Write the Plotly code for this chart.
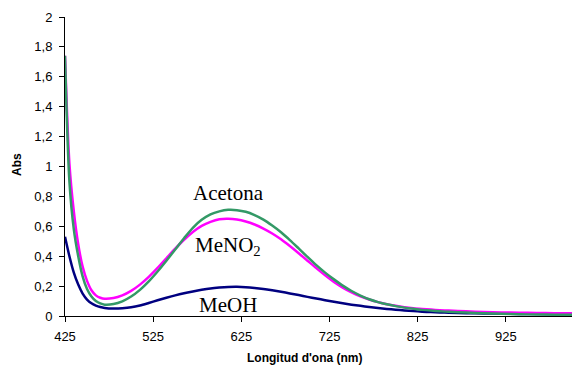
import plotly.graph_objects as go

# Wavelength grid (nm)
wavelength = [425, 430, 435, 440, 445, 450, 455, 460, 465, 470,
              480, 490, 500, 510, 520, 530, 540, 550, 560, 570,
              580, 590, 600, 610, 620, 630, 640, 650, 660, 670,
              680, 690, 700, 710, 720, 730, 740, 750, 760, 770,
              780, 790, 800, 810, 820, 830, 840, 850, 860,
              880, 900, 920, 940, 960, 980, 1000]

# Absorbance in each solvent
abs_acetona = [1.74, 0.90, 0.58, 0.40, 0.265, 0.18, 0.13, 0.10, 0.084, 0.076,
               0.08, 0.098, 0.13, 0.175, 0.232, 0.298, 0.37, 0.445, 0.52, 0.59,
               0.643, 0.68, 0.70, 0.71, 0.708, 0.697, 0.675, 0.645, 0.605, 0.56,
               0.508, 0.452, 0.395, 0.34, 0.29, 0.245, 0.203, 0.167, 0.137, 0.112,
               0.093, 0.078, 0.066, 0.056, 0.048, 0.041, 0.036, 0.032, 0.028,
               0.023, 0.018, 0.015, 0.012, 0.010, 0.009, 0.008]
abs_meno2 = [1.74, 1.02, 0.70, 0.48, 0.33, 0.235, 0.172, 0.138, 0.122, 0.115,
             0.12, 0.138, 0.168, 0.21, 0.262, 0.322, 0.386, 0.45, 0.51, 0.562,
             0.603, 0.63, 0.647, 0.65, 0.645, 0.632, 0.612, 0.585, 0.552, 0.513,
             0.468, 0.42, 0.37, 0.32, 0.272, 0.228, 0.19, 0.158, 0.132, 0.11,
             0.093, 0.079, 0.068, 0.059, 0.052, 0.047, 0.043, 0.039, 0.036,
             0.031, 0.027, 0.024, 0.022, 0.020, 0.019, 0.018]
abs_meoh = [0.53, 0.40, 0.29, 0.21, 0.15, 0.11, 0.085, 0.07, 0.06, 0.054,
            0.05, 0.052, 0.058, 0.07, 0.087, 0.105, 0.122, 0.138, 0.152, 0.164,
            0.175, 0.184, 0.19, 0.194, 0.195, 0.193, 0.188, 0.181, 0.172, 0.162,
            0.151, 0.14, 0.128, 0.117, 0.106, 0.095, 0.085, 0.076, 0.068, 0.06,
            0.053, 0.047, 0.042, 0.037, 0.033, 0.029, 0.026, 0.024, 0.022,
            0.019, 0.017, 0.015, 0.014, 0.013, 0.012, 0.012]

x_ticks = [425, 525, 625, 725, 825, 925]
y_ticks = [0, 0.2, 0.4, 0.6, 0.8, 1.0, 1.2, 1.4, 1.6, 1.8, 2.0]
y_ticktext = ["0", "0,2", "0,4", "0,6", "0,8", "1", "1,2", "1,4", "1,6", "1,8", "2"]

# Label for each curve: (text, x in nm, y in Abs)
labels = [("Acetona", 610, 0.82), ("MeNO<sub>2</sub>", 610, 0.47), ("MeOH", 610, 0.075)]

fig = go.Figure()
series = [
    ("MeOH", abs_meoh, "#000080"),
    ("MeNO2", abs_meno2, "#FF00FF"),
    ("Acetona", abs_acetona, "#339966"),
]
for name, vals, color in series:
    fig.add_trace(go.Scatter(
        x=wavelength, y=vals, mode="lines", name=name,
        line=dict(color=color, width=2.5, shape="spline", smoothing=0.8),
        showlegend=False,
    ))

for text, xv, yv in labels:
    fig.add_annotation(x=xv, y=yv, text=text, showarrow=False,
                       xanchor="center", yanchor="middle",
                       font=dict(family="Liberation Serif", size=21, color="black"))

fig.add_annotation(xref="paper", yref="paper", x=(305 - 65) / 507, y=-(358 - 316) / 299,
                   text="<b>Longitud d'ona (nm)</b>", showarrow=False,
                   xanchor="center", yanchor="middle",
                   font=dict(family="Liberation Sans", size=12, color="black"))
fig.add_annotation(xref="paper", yref="paper", x=-(65 - 17) / 507, y=0.505,
                   text="<b>Abs</b>", showarrow=False, textangle=-90,
                   xanchor="center", yanchor="middle",
                   font=dict(family="Liberation Sans", size=12, color="black"))

axis_common = dict(showgrid=False, zeroline=False, showline=True, linecolor="black",
                   linewidth=1, ticks="outside", ticklen=5, tickcolor="black",
                   tickfont=dict(family="Liberation Sans", size=13, color="black"))

fig.update_xaxes(range=[425, 1000], tickvals=x_ticks, ticklabelstandoff=3, **axis_common)
fig.update_yaxes(range=[0, 2], tickvals=y_ticks, ticktext=y_ticktext,
                 ticklabelstandoff=4, **axis_common)

fig.update_layout(
    width=572, height=365,
    margin=dict(l=65, r=0, t=17, b=49),
    paper_bgcolor="white", plot_bgcolor="white",
)

fig.write_html("out.html")
